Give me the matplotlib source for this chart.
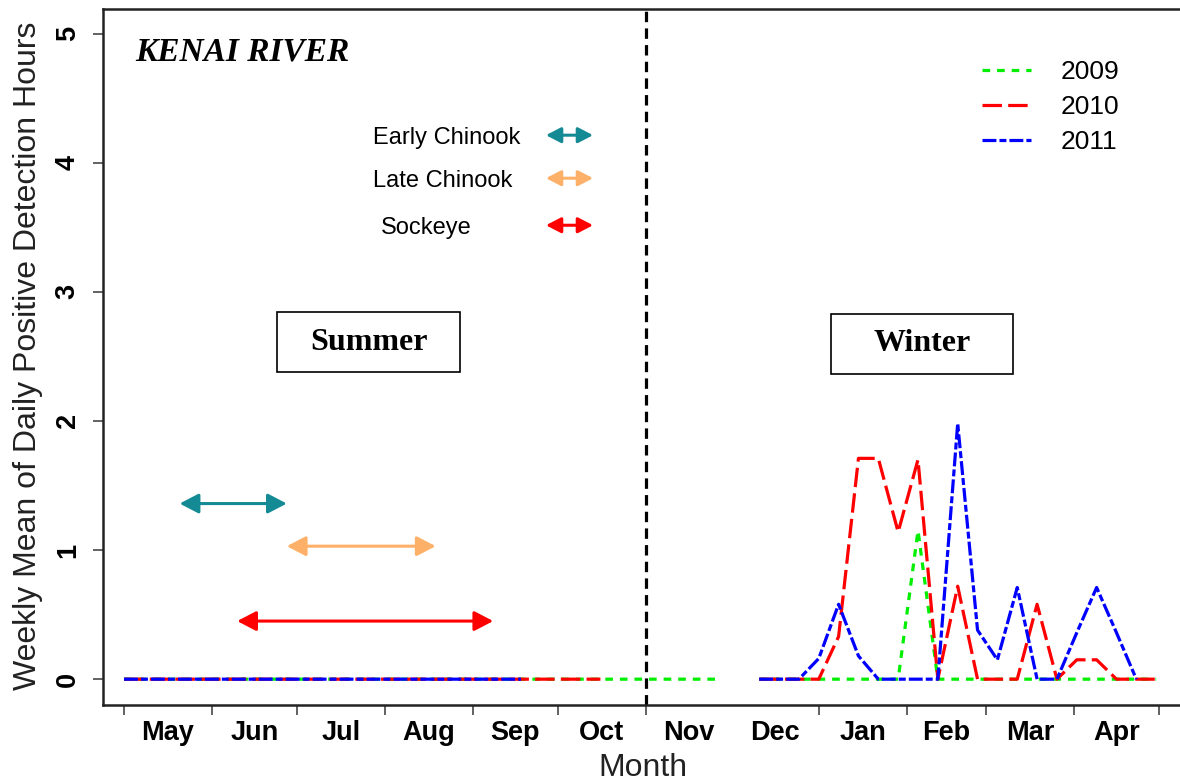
import numpy as np
import matplotlib
matplotlib.use("Agg")
import matplotlib.pyplot as plt
from matplotlib.patches import Rectangle

plt.rcParams['font.family'] = ['Liberation Sans', 'DejaVu Sans']
plt.rcParams['lines.scale_dashes'] = False

nan = np.nan

# ---- data -------------------------------------------------------------
# week index counted from 1 May (summer) through April (winter)
weeks = list(range(53))

y2009 = [0, 0, 0, 0, 0, 0, 0, 0, 0, 0, 0, 0, 0, 0, 0, 0, 0, 0, 0, 0,
         0, 0, 0, 0, 0, 0, 0, 0, 0, 0, 0, nan,
         0, 0, 0, 0, 0, 0, 0, 0, 1.15, 0, 0, 0, 0, 0, 0, 0, 0, 0, 0, 0, 0]
y2010 = [0, 0, 0, 0, 0, 0, 0, 0, 0, 0, 0, 0, 0, 0, 0, 0, 0, 0, 0, 0,
         0, 0, 0, 0, 0, nan, nan, nan, nan, nan, nan, nan,
         0, 0, 0, 0, 0.33, 1.71, 1.71, 1.14, 1.70, 0, 0.72, 0, 0, 0, 0.58, 0,
         0.15, 0.15, 0, 0, 0]
y2011 = [0, 0, 0, 0, 0, 0, 0, 0, 0, 0, 0, 0, 0, 0, 0, 0, 0, 0, 0, 0,
         0, nan, nan, nan, nan, nan, nan, nan, nan, nan, nan, nan,
         0, 0, 0, 0.16, 0.58, 0.18, 0, 0, 0, 0, 1.98, 0.38, 0.15, 0.71, 0, 0,
         0.36, 0.71, 0.36, 0, nan]

years = ['2009', '2010', '2011']

months = ['May', 'Jun', 'Jul', 'Aug', 'Sep', 'Oct',
          'Nov', 'Dec', 'Jan', 'Feb', 'Mar', 'Apr']
month_days = [31, 30, 31, 31, 30, 31, 30, 31, 31, 28, 31, 30]

# species run timing (weeks from 1 May) and the level they are drawn at
species = ['Early Chinook', 'Late Chinook', 'Sockeye']
run_start = [2.8, 8.2, 5.7]
run_end = [8.2, 15.7, 18.6]
run_level = [1.36, 1.03, 0.45]

# ---- styles -----------------------------------------------------------
year_colors = ['#00ee00', '#ff0000', '#0000ff']
year_dashes = [(5.5, 5.0), (14, 4.5), (10, 2.2, 5, 2.2)]
species_colors = ['#148a94', '#fdb068', '#ff0000']

fig = plt.figure(figsize=(11.8, 7.83), dpi=100)
ax = fig.add_axes([103 / 1180, 1 - 705 / 783, 1 - 103 / 1180, (705 - 9) / 783])

handles = []
for vals, c, d, lab in zip([y2009, y2010, y2011], year_colors, year_dashes, years):
    ln, = ax.plot(weeks, vals, color=c, lw=2.3, dashes=d, label=lab)
    handles.append(ln)

ax.set_xlim(-1.06, 53.2)
ax.set_ylim(-0.2, 5.19)

# month boundaries / label centres in weeks
cum = np.concatenate([[0], np.cumsum(month_days)])
bounds = cum / 7.0
mids = (cum[:-1] + cum[1:]) / 2.0 / 7.0
tick_bounds = [b for i, b in enumerate(bounds) if i != 7]  # no tick at 1 Dec
ax.set_xticks(tick_bounds)
ax.set_xticklabels([])
ax.set_xticks(mids, minor=True)
ax.set_xticklabels(months, minor=True, fontsize=19.5, fontweight='bold')
ax.tick_params(axis='x', which='major', length=7, width=1.3, direction='out', color='#555555')
ax.tick_params(axis='x', which='minor', length=0, pad=11)

ax.set_yticks([0, 1, 2, 3, 4, 5])
ax.set_yticklabels(['0', '1', '2', '3', '4', '5'], fontsize=19.5, fontweight='bold')
ax.tick_params(axis='y', length=7, width=1.3, direction='out', pad=9,
               labelrotation=90, color='#555555')
for t in ax.get_yticklabels():
    t.set_va('center')

for s in ['left', 'bottom', 'top']:
    ax.spines[s].set_linewidth(1.8)
    ax.spines[s].set_color('#222222')
ax.spines['right'].set_visible(False)

ax.set_ylabel('Weekly Mean of Daily Positive Detection Hours', fontsize=23, color='#222222')
ax.yaxis.set_label_coords(-0.0696, 0.5014)
ax.yaxis.label.set_va('center')
ax.set_xlabel('Month', fontsize=23, color='#222222')
ax.xaxis.set_label_coords(0.5014, -0.0905)
ax.xaxis.label.set_va('center')

# summer / winter divide at 1 November
ax.axvline(bounds[6], color='black', lw=2.3, dashes=(7.5, 4.5))

# species run-timing arrows
for s0, s1, lev, c in zip(run_start, run_end, run_level, species_colors):
    ax.annotate('', xy=(s1, lev), xytext=(s0, lev),
                arrowprops=dict(arrowstyle='<|-|>,head_length=0.5,head_width=0.26',
                                color=c, lw=2.2, mutation_scale=23,
                                shrinkA=0, shrinkB=0))

# species key
key_y = [0.8147, 0.7529, 0.6853]
key_text_x = [0.2507, 0.2507, 0.2581]
for name, ty, tx, c in zip(species, key_y, key_text_x, species_colors):
    ax.text(tx, ty, name, transform=ax.transAxes, fontsize=17, ha='left', va='center')
    ax.annotate('', xy=(0.455, ty + 0.004), xytext=(0.4113, ty + 0.004),
                xycoords='axes fraction', textcoords='axes fraction',
                arrowprops=dict(arrowstyle='<|-|>,head_length=0.5,head_width=0.26',
                                color=c, lw=2.2, mutation_scale=18,
                                shrinkA=0, shrinkB=0))

# title
ax.text(0.0297, 0.938, 'KENAI RIVER', transform=ax.transAxes, fontsize=24,
        fontweight='bold', fontstyle='italic', family='Liberation Serif',
        ha='left', va='center')

# season boxes
for (x0, x1, y0, y1, lab) in [(0.1616, 0.3315, 0.4784, 0.5647, 'Summer'),
                              (0.6760, 0.8450, 0.4756, 0.5618, 'Winter')]:
    ax.add_patch(Rectangle((x0, y0), x1 - x0, y1 - y0, transform=ax.transAxes,
                           fill=False, lw=1.2, ec='black'))
    ax.text((x0 + x1) / 2, (y0 + y1) / 2, lab, transform=ax.transAxes,
            fontsize=23, fontweight='bold', family='Liberation Serif',
            ha='center', va='center')

leg = ax.legend(handles=handles, loc='upper left', bbox_to_anchor=(0.816, 0.927),
                frameon=False, fontsize=19, handlelength=1.85, handletextpad=1.15,
                labelspacing=0.42, borderpad=0, borderaxespad=0)

fig.savefig('out.png', dpi=100)
